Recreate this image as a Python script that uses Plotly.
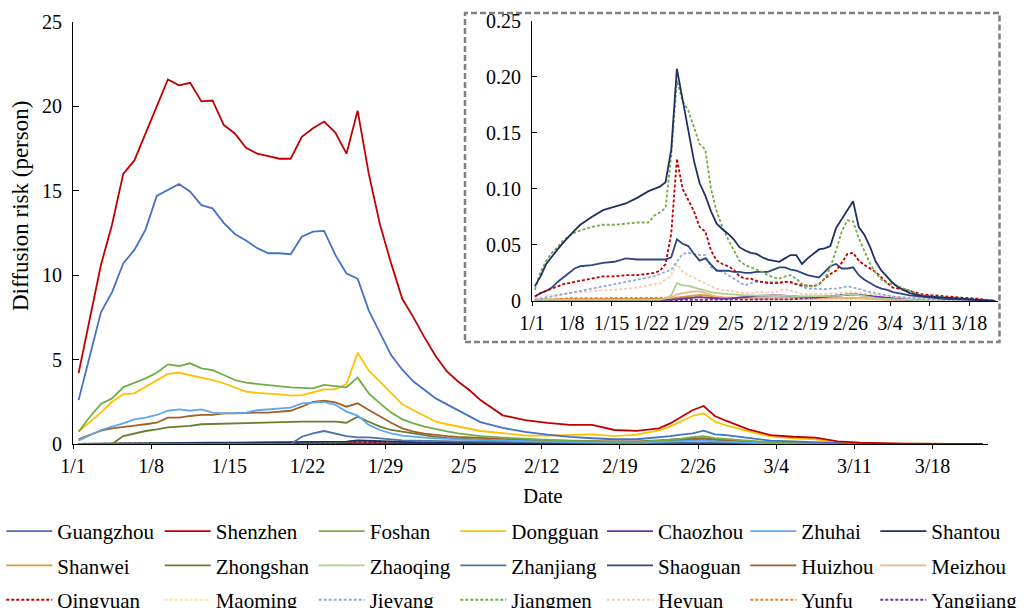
import plotly.graph_objects as go
import pandas as pd

# ---------------- data ----------------
BASE = pd.Timestamp("2020-01-01")

TICK_DAYS = [0, 7, 14, 21, 28, 35, 42, 49, 56, 63, 70, 77]
TICK_LABELS = ["1/1", "1/8", "1/15", "1/22", "1/29", "2/5", "2/12", "2/19",
               "2/26", "3/4", "3/11", "3/18"]

# day offsets (from 1/1) of the large-city series
DAYS_MAIN = list(range(0, 37)) + [38, 40, 42, 44, 46, 48, 50, 52, 53, 54, 55, 56,
                                  57, 58, 60, 62, 64, 66, 68, 70, 74, 78, 81]

shenzhen = [4.2, 7.4, 10.6, 13.0, 16.0, 16.8, 18.4, 20.0, 21.6, 21.25, 21.4, 20.3, 20.35,
            18.9, 18.4, 17.55, 17.2, 17.05, 16.9, 16.9, 18.2, 18.7, 19.1, 18.45, 17.2, 19.75,
            16.0, 13.0, 10.7, 8.6, 7.5, 6.3, 5.2, 4.3, 3.7, 3.2, 2.6,
            1.7, 1.42, 1.25, 1.13, 1.13, 0.83, 0.78, 0.93, 1.22, 1.6, 2.0, 2.25, 1.66, 1.38,
            0.87, 0.53, 0.43, 0.38, 0.15, 0.08, 0.02, 0.01, 0.0]
guangzhou = [2.6, 5.2, 7.8, 9.0, 10.7, 11.5, 12.7, 14.7, 15.05, 15.4, 14.95, 14.15, 13.96,
             13.1, 12.44, 12.05, 11.6, 11.3, 11.3, 11.24, 12.28, 12.58, 12.62, 11.2, 10.1, 9.8,
             7.9, 6.55, 5.27, 4.4, 3.7, 3.2, 2.7, 2.35, 2.0, 1.6, 1.3,
             0.95, 0.72, 0.55, 0.42, 0.34, 0.28, 0.28, 0.38, 0.47, 0.55, 0.63, 0.79, 0.57, 0.53,
             0.36, 0.2, 0.15, 0.1, 0.03, 0.01, 0.0, 0.0, 0.0]
foshan = [0.73, 1.6, 2.37, 2.7, 3.36, 3.63, 3.89, 4.22, 4.72, 4.62, 4.78, 4.48, 4.38, 4.09,
          3.79, 3.63, 3.56, 3.5, 3.43, 3.36, 3.33, 3.3, 3.5, 3.43, 3.36, 3.93, 3.0, 2.41, 1.86,
          1.46, 1.22, 1.03, 0.87, 0.75, 0.63, 0.55, 0.47,
          0.38, 0.3, 0.22, 0.18, 0.15, 0.13, 0.13, 0.2, 0.25, 0.32, 0.4, 0.47, 0.35, 0.3, 0.18,
          0.1, 0.06, 0.03, 0.01, 0.0, 0.0, 0.0, 0.0]
dongguan = [0.73, 1.3, 1.86, 2.5, 2.94, 3.0, 3.4, 3.79, 4.15, 4.22, 4.09, 3.93, 3.79, 3.6,
            3.36, 3.1, 3.03, 3.0, 2.94, 2.86, 2.9, 3.06, 3.24, 3.24, 3.55, 5.41, 4.34, 3.7, 3.0,
            2.35, 2.0, 1.65, 1.32, 1.17, 1.03, 0.9, 0.77,
            0.65, 0.5, 0.5, 0.55, 0.57, 0.47, 0.55, 0.8, 1.03, 1.35, 1.66, 1.82, 1.32, 1.1, 0.75,
            0.45, 0.34, 0.28, 0.05, 0.02, 0.01, 0.0, 0.0]
zhuhai = [0.2, 0.5, 0.83, 1.03, 1.22, 1.46, 1.56, 1.72, 1.97, 2.05, 1.97, 2.05, 1.86, 1.82,
          1.82, 1.86, 2.0, 2.05, 2.07, 2.15, 2.41, 2.45, 2.5, 2.32, 1.92, 1.68, 1.13, 0.83, 0.63,
          0.5, 0.42, 0.38, 0.33, 0.3, 0.27, 0.25, 0.23,
          0.2, 0.16, 0.13, 0.11, 0.1, 0.09, 0.09, 0.12, 0.14, 0.16, 0.18, 0.22, 0.15, 0.12, 0.07,
          0.04, 0.02, 0.01, 0.0, 0.0, 0.0, 0.0, 0.0]
huizhou = [0.28, 0.55, 0.79, 0.93, 1.03, 1.09, 1.17, 1.26, 1.56, 1.56, 1.66, 1.72, 1.72, 1.82,
           1.82, 1.86, 1.86, 1.86, 1.92, 1.97, 2.21, 2.5, 2.57, 2.47, 2.21, 2.41, 2.01, 1.62,
           1.26, 0.93, 0.73, 0.62, 0.53, 0.47, 0.42, 0.38, 0.35,
           0.3, 0.25, 0.22, 0.2, 0.18, 0.15, 0.15, 0.2, 0.24, 0.28, 0.32, 0.35, 0.28, 0.24, 0.15,
           0.08, 0.05, 0.02, 0.01, 0.0, 0.0, 0.0, 0.0]
zhongshan = [0.0, 0.0, 0.0, 0.0, 0.47, 0.63, 0.77, 0.87, 0.99, 1.03, 1.07, 1.17, 1.19, 1.22,
             1.22, 1.26, 1.26, 1.26, 1.28, 1.32, 1.32, 1.32, 1.32, 1.32, 1.26, 1.62, 1.32, 1.03,
             0.83, 0.73, 0.6, 0.5, 0.42, 0.36, 0.32, 0.28, 0.25,
             0.2, 0.17, 0.14, 0.12, 0.11, 0.1, 0.1, 0.15, 0.18, 0.22, 0.26, 0.3, 0.24, 0.2, 0.12,
             0.06, 0.03, 0.01, 0.0, 0.0, 0.0, 0.0, 0.0]
zhanjiang = [0.0, 0.0, 0.0, 0.0, 0.0, 0.0, 0.0, 0.0, 0.0, 0.0, 0.0, 0.0, 0.0, 0.0, 0.0, 0.0,
             0.0, 0.0, 0.0, 0.0, 0.43, 0.63, 0.77, 0.63, 0.47, 0.39, 0.39, 0.33, 0.26, 0.22, 0.2,
             0.2, 0.2, 0.18, 0.16, 0.15, 0.14,
             0.12, 0.1, 0.08, 0.07, 0.06, 0.05, 0.05, 0.07, 0.08, 0.09, 0.1, 0.12, 0.1, 0.08,
             0.05, 0.02, 0.01, 0.0, 0.0, 0.0, 0.0, 0.0, 0.0]

# day offsets (from 1/1) of the small-city series
DAYS_SMALL = [0, 1, 2, 3, 4, 5, 6, 7, 8, 10, 12, 14, 16, 18, 20] + list(range(21, 65)) + \
             [66, 68, 70, 72, 75, 78, 81]

shantou = [0.013, 0.022, 0.033, 0.040, 0.046, 0.052, 0.058, 0.063, 0.068,
           0.075, 0.081, 0.084, 0.087, 0.092, 0.098,
           0.100, 0.102, 0.106, 0.135, 0.207, 0.180, 0.155, 0.125, 0.105, 0.094,
           0.080, 0.069, 0.064, 0.060, 0.055, 0.048, 0.045, 0.043, 0.042, 0.039,
           0.037, 0.036, 0.035, 0.038, 0.041, 0.041, 0.033, 0.038, 0.042, 0.046,
           0.047, 0.049, 0.065, 0.073, 0.082, 0.089, 0.066, 0.059, 0.048, 0.035,
           0.027, 0.021, 0.016, 0.012,
           0.007, 0.0045, 0.0035, 0.003, 0.002, 0.001, 0.0]
jiangmen = [0.010, 0.026, 0.036, 0.043, 0.048, 0.054, 0.058, 0.061, 0.063,
            0.066, 0.068, 0.068, 0.069, 0.070, 0.070,
            0.076, 0.079, 0.083, 0.130, 0.197, 0.178, 0.170, 0.155, 0.140, 0.135,
            0.100, 0.080, 0.066, 0.055, 0.045, 0.036, 0.032, 0.030, 0.028, 0.026,
            0.023, 0.021, 0.020, 0.022, 0.023, 0.020, 0.015, 0.013, 0.013, 0.015,
            0.020, 0.030, 0.045, 0.062, 0.072, 0.071, 0.056, 0.045, 0.033, 0.025,
            0.019, 0.016, 0.015, 0.013,
            0.009, 0.005, 0.004, 0.003, 0.002, 0.001, 0.0]
shaoguan = [0.004, 0.007, 0.009, 0.012, 0.017, 0.021, 0.025, 0.029, 0.031,
            0.032, 0.034, 0.035, 0.038, 0.037, 0.037,
            0.037, 0.037, 0.037, 0.039, 0.055, 0.051, 0.049, 0.042, 0.036, 0.038,
            0.032, 0.027, 0.027, 0.027, 0.026, 0.026, 0.025, 0.025, 0.026, 0.026,
            0.026, 0.028, 0.030, 0.030, 0.028, 0.027, 0.025, 0.023, 0.022, 0.021,
            0.026, 0.031, 0.033, 0.029, 0.029, 0.030, 0.023, 0.019, 0.016, 0.013,
            0.011, 0.010, 0.008, 0.007,
            0.005, 0.004, 0.003, 0.002, 0.0015, 0.001, 0.0]
qingyuan = [0.004, 0.007, 0.009, 0.011, 0.013, 0.015, 0.016, 0.017, 0.018,
            0.020, 0.022, 0.022, 0.023, 0.023, 0.024,
            0.025, 0.027, 0.033, 0.060, 0.127, 0.100, 0.090, 0.080, 0.066, 0.062,
            0.045, 0.036, 0.033, 0.031, 0.028, 0.022, 0.020, 0.020, 0.018, 0.017,
            0.016, 0.016, 0.016, 0.017, 0.017, 0.015, 0.014, 0.014, 0.013, 0.015,
            0.020, 0.024, 0.027, 0.034, 0.042, 0.043, 0.036, 0.032, 0.029, 0.026,
            0.021, 0.016, 0.012, 0.011,
            0.009, 0.006, 0.005, 0.004, 0.003, 0.002, 0.0]
jieyang = [0.001, 0.002, 0.003, 0.004, 0.005, 0.006, 0.007, 0.008, 0.009,
           0.011, 0.013, 0.015, 0.017, 0.019, 0.021,
           0.022, 0.024, 0.026, 0.028, 0.035, 0.042, 0.043, 0.042, 0.041, 0.041,
           0.030, 0.028, 0.026, 0.023, 0.020, 0.017, 0.014, 0.016, 0.017, 0.017,
           0.017, 0.017, 0.017, 0.017, 0.016, 0.015, 0.013, 0.011, 0.011, 0.0105,
           0.0105, 0.011, 0.011, 0.012, 0.013, 0.012, 0.0105, 0.009, 0.008, 0.007,
           0.006, 0.0045, 0.004, 0.0035,
           0.003, 0.002, 0.0015, 0.001, 0.001, 0.0, 0.0]
heyuan = [0.002, 0.003, 0.004, 0.005, 0.006, 0.0065, 0.007, 0.008, 0.008,
          0.009, 0.0095, 0.010, 0.011, 0.012, 0.014,
          0.015, 0.016, 0.019, 0.023, 0.033, 0.026, 0.023, 0.021, 0.018, 0.016,
          0.013, 0.011, 0.010, 0.009, 0.008, 0.0075, 0.007, 0.007, 0.008, 0.008,
          0.0075, 0.0075, 0.009, 0.0105, 0.009, 0.008, 0.006, 0.006, 0.006, 0.006,
          0.006, 0.0065, 0.007, 0.0075, 0.008, 0.008, 0.007, 0.0065, 0.006, 0.005,
          0.0045, 0.004, 0.0035, 0.003,
          0.0025, 0.002, 0.001, 0.001, 0.0, 0.0, 0.0]
zhaoqing = [0.001, 0.001, 0.001, 0.001, 0.001, 0.001, 0.001, 0.001, 0.001,
            0.001, 0.001, 0.001, 0.001, 0.001, 0.001,
            0.001, 0.001, 0.002, 0.005, 0.016, 0.014, 0.0135, 0.012, 0.0105, 0.009,
            0.008, 0.007, 0.0065, 0.006, 0.006, 0.0055, 0.005, 0.005, 0.005, 0.005,
            0.005, 0.005, 0.005, 0.005, 0.0045, 0.004, 0.004, 0.004, 0.004, 0.004,
            0.004, 0.004, 0.0045, 0.005, 0.006, 0.006, 0.005, 0.004, 0.003, 0.0025,
            0.002, 0.0015, 0.0015, 0.0015,
            0.001, 0.0, 0.0, 0.0, 0.0, 0.0, 0.0]
meizhou = [0.0005, 0.0005, 0.0005, 0.0005, 0.0005, 0.0005, 0.0005, 0.0005, 0.0005,
           0.0005, 0.0005, 0.0005, 0.0005, 0.0005, 0.0005,
           0.0005, 0.0008, 0.001, 0.003, 0.006, 0.007, 0.008, 0.0085, 0.0085, 0.007,
           0.005, 0.004, 0.0035, 0.003, 0.003, 0.003, 0.003, 0.0028, 0.0025, 0.0025,
           0.0025, 0.0025, 0.0025, 0.0025, 0.0022, 0.002, 0.002, 0.002, 0.002, 0.002,
           0.002, 0.002, 0.0022, 0.0025, 0.0028, 0.003, 0.0025, 0.002, 0.0018, 0.0015,
           0.0012, 0.001, 0.001, 0.0008,
           0.0005, 0.0, 0.0, 0.0, 0.0, 0.0, 0.0]
shanwei = [0.0015, 0.0015, 0.0015, 0.0015, 0.0015, 0.0015, 0.0015, 0.0015, 0.0015,
           0.0015, 0.0015, 0.0015, 0.0015, 0.0015, 0.0015,
           0.0015, 0.0015, 0.0015, 0.002, 0.003, 0.0035, 0.004, 0.005, 0.0055, 0.005,
           0.004, 0.0035, 0.003, 0.0028, 0.0025, 0.0025, 0.0022, 0.002, 0.002, 0.002,
           0.002, 0.002, 0.002, 0.002, 0.002, 0.002, 0.002, 0.002, 0.002, 0.002,
           0.002, 0.002, 0.002, 0.0022, 0.0025, 0.0028, 0.0025, 0.002, 0.0018, 0.0015,
           0.0012, 0.001, 0.001, 0.0008,
           0.0005, 0.0, 0.0, 0.0, 0.0, 0.0, 0.0]
yunfu = [0.0, 0.0005, 0.001, 0.0015, 0.002, 0.0022, 0.0025, 0.0025, 0.0025,
         0.0025, 0.0025, 0.0025, 0.0025, 0.0025, 0.0025,
         0.0025, 0.0025, 0.0025, 0.0028, 0.003, 0.003, 0.0032, 0.0035, 0.0035, 0.0032,
         0.003, 0.003, 0.0028, 0.0025, 0.0025, 0.0025, 0.0025, 0.0025, 0.0025, 0.0025,
         0.0025, 0.0025, 0.0025, 0.0025, 0.0025, 0.0025, 0.0025, 0.0025, 0.0025, 0.0025,
         0.0025, 0.0025, 0.0025, 0.0025, 0.0028, 0.003, 0.0028, 0.0025, 0.0022, 0.002,
         0.0018, 0.0015, 0.0012, 0.001,
         0.0008, 0.0005, 0.0, 0.0, 0.0, 0.0, 0.0]
chaozhou = [0.0, 0.0, 0.0, 0.0, 0.0, 0.0, 0.0, 0.0, 0.0,
            0.0, 0.0, 0.0, 0.0005, 0.0005, 0.0005,
            0.0005, 0.0005, 0.0008, 0.001, 0.0015, 0.002, 0.0025, 0.003, 0.0035, 0.003,
            0.0025, 0.002, 0.002, 0.0022, 0.0025, 0.003, 0.0035, 0.004, 0.0045, 0.0048,
            0.005, 0.005, 0.005, 0.0048, 0.0045, 0.004, 0.0035, 0.003, 0.003, 0.0032,
            0.0035, 0.004, 0.0045, 0.005, 0.0055, 0.006, 0.0055, 0.005, 0.004, 0.0035,
            0.003, 0.0025, 0.002, 0.0015,
            0.001, 0.0005, 0.0, 0.0, 0.0, 0.0, 0.0]
yangjiang = [0.0, 0.0, 0.0, 0.0, 0.0, 0.0, 0.0, 0.0, 0.0,
             0.0, 0.0, 0.0, 0.0, 0.0, 0.0,
             0.0, 0.0, 0.0, 0.0, 0.0005, 0.001, 0.001, 0.0012, 0.0015, 0.0015,
             0.0015, 0.0015, 0.0015, 0.0015, 0.0015, 0.0015, 0.0015, 0.0015, 0.0015, 0.0015,
             0.0015, 0.0015, 0.0015, 0.0015, 0.0015, 0.0018, 0.002, 0.0025, 0.003, 0.0035,
             0.004, 0.0045, 0.005, 0.0055, 0.006, 0.0065, 0.006, 0.0055, 0.0045, 0.0035,
             0.0028, 0.0022, 0.0018, 0.0015,
             0.001, 0.0008, 0.0005, 0.0003, 0.0001, 0.0, 0.0]
maoming = [0.0005, 0.0005, 0.0005, 0.0005, 0.0005, 0.0005, 0.0005, 0.0005, 0.0005,
           0.0008, 0.0008, 0.0008, 0.0008, 0.0008, 0.0008,
           0.0008, 0.0008, 0.001, 0.0012, 0.0018, 0.0018, 0.0015, 0.0015, 0.0015, 0.0012,
           0.001, 0.001, 0.001, 0.001, 0.001, 0.001, 0.001, 0.001, 0.001, 0.001,
           0.001, 0.001, 0.001, 0.001, 0.001, 0.001, 0.001, 0.001, 0.001, 0.001,
           0.001, 0.001, 0.0012, 0.0013, 0.0015, 0.0015, 0.0012, 0.001, 0.001, 0.0008,
           0.0008, 0.0005, 0.0005, 0.0005,
           0.0003, 0.0, 0.0, 0.0, 0.0, 0.0, 0.0]

CITIES = ["Guangzhou", "Shenzhen", "Foshan", "Dongguan", "Chaozhou", "Zhuhai", "Shantou",
          "Shanwei", "Zhongshan", "Zhaoqing", "Zhanjiang", "Shaoguan", "Huizhou", "Meizhou",
          "Qingyuan", "Maoming", "Jieyang", "Jiangmen", "Heyuan", "Yunfu", "Yangjiang"]

SERIES = {
    "Guangzhou": (DAYS_MAIN, guangzhou), "Shenzhen": (DAYS_MAIN, shenzhen),
    "Foshan": (DAYS_MAIN, foshan), "Dongguan": (DAYS_MAIN, dongguan),
    "Zhuhai": (DAYS_MAIN, zhuhai), "Huizhou": (DAYS_MAIN, huizhou),
    "Zhongshan": (DAYS_MAIN, zhongshan), "Zhanjiang": (DAYS_MAIN, zhanjiang),
    "Chaozhou": (DAYS_SMALL, chaozhou), "Shantou": (DAYS_SMALL, shantou),
    "Shanwei": (DAYS_SMALL, shanwei), "Zhaoqing": (DAYS_SMALL, zhaoqing),
    "Shaoguan": (DAYS_SMALL, shaoguan), "Meizhou": (DAYS_SMALL, meizhou),
    "Qingyuan": (DAYS_SMALL, qingyuan), "Maoming": (DAYS_SMALL, maoming),
    "Jieyang": (DAYS_SMALL, jieyang), "Jiangmen": (DAYS_SMALL, jiangmen),
    "Heyuan": (DAYS_SMALL, heyuan), "Yunfu": (DAYS_SMALL, yunfu),
    "Yangjiang": (DAYS_SMALL, yangjiang),
}
SMALL_CITIES = ["Shanwei", "Yunfu", "Maoming", "Meizhou", "Chaozhou", "Yangjiang", "Zhaoqing",
                "Heyuan", "Jieyang", "Shaoguan", "Qingyuan", "Jiangmen", "Shantou"]

# ---------------- styling ----------------
STYLE = {
    "Guangzhou": ("#4472C4", "solid"), "Shenzhen": ("#C00000", "solid"),
    "Foshan": ("#70AD47", "solid"), "Dongguan": ("#FFC000", "solid"),
    "Chaozhou": ("#7030A0", "solid"), "Zhuhai": ("#5FA7EE", "solid"),
    "Shantou": ("#1F3064", "solid"), "Shanwei": ("#C9A13B", "solid"),
    "Zhongshan": ("#6B7D2E", "solid"), "Zhaoqing": ("#A9D18E", "solid"),
    "Zhanjiang": ("#4E72A8", "solid"), "Shaoguan": ("#2F4680", "solid"),
    "Huizhou": ("#A35F2A", "solid"), "Meizhou": ("#F4B183", "solid"),
    "Qingyuan": ("#C00000", "3px,2px"), "Maoming": ("#FFE699", "3px,2px"),
    "Jieyang": ("#8FAADC", "3px,2px"), "Jiangmen": ("#70AD47", "3px,2px"),
    "Heyuan": ("#F8CBAD", "3px,2px"), "Yunfu": ("#ED7D31", "3px,2px"),
    "Yangjiang": ("#7030A0", "3px,2px"),
}
FONT = "Liberation Serif"

W, H = 1027, 608
L, R, T, B = 73, 22, 10, 164          # plot-area margins (px)
PW, PH = W - L - R, H - T - B


def px_x(p):
    return (p - L) / PW


def px_y(p):
    return (H - B - p) / PH


def to_dates(days):
    return [BASE + pd.Timedelta(days=d, hours=12) for d in days]


tick_dates = [BASE + pd.Timedelta(days=d) for d in TICK_DAYS]
x_range = [BASE, BASE + pd.Timedelta(days=82)]

fig = go.Figure()

# main panel: every city, legend entries arranged in 7 columns
draw_order = SMALL_CITIES + ["Zhanjiang", "Zhongshan", "Huizhou", "Zhuhai", "Dongguan",
                             "Foshan", "Guangzhou", "Shenzhen"]
legend_ids = ["legend"] + [f"legend{i}" for i in range(2, 8)]
for name in draw_order:
    days, vals = SERIES[name]
    color, dash = STYLE[name]
    col = CITIES.index(name) % 7
    fig.add_trace(go.Scatter(
        x=to_dates(days), y=vals, mode="lines", name=name,
        line=dict(color=color, width=1.8, dash=dash),
        legend=legend_ids[col], legendgroup=name,
        legendrank=CITIES.index(name),
        xaxis="x", yaxis="y"))

# inset: the small cities on an enlarged scale
for name in SMALL_CITIES:
    days, vals = SERIES[name]
    color, dash = STYLE[name]
    fig.add_trace(go.Scatter(
        x=to_dates(days), y=vals, mode="lines", name=name, showlegend=False,
        line=dict(color=color, width=1.8, dash=dash), legendgroup=name,
        xaxis="x2", yaxis="y2"))

axis_common = dict(showline=True, linecolor="black", linewidth=1.2, showgrid=False,
                   zeroline=False, color="black", automargin=False)

legend_cols_px = [9.3, 167.7, 321.7, 463.3, 610.0, 753.3, 883.3]
legend_layout = {}
for lid, xp in zip(legend_ids, legend_cols_px):
    legend_layout[lid] = dict(
        x=(xp - 8) / W, y=1 - 511 / H, xref="container", yref="container",
        xanchor="left", yanchor="top",
        orientation="v", bgcolor="rgba(0,0,0,0)", borderwidth=0,
        font=dict(family=FONT, size=21, color="black"),
        itemwidth=46, tracegroupgap=4, traceorder="grouped")

fig.update_layout(
    width=W, height=H,
    margin=dict(l=L, r=R, t=T, b=B, autoexpand=False),
    paper_bgcolor="white", plot_bgcolor="rgba(0,0,0,0)",
    font=dict(family=FONT, size=20, color="black"),
    xaxis=dict(**axis_common, type="date", domain=[0, px_x(988.3)], range=x_range,
               tickmode="array", tickvals=tick_dates, ticktext=TICK_LABELS,
               ticks="outside", ticklen=4, tickwidth=1.2, tickcolor="black",
               tickfont=dict(family=FONT, size=20), anchor="y"),
    yaxis=dict(**axis_common, domain=[0, px_y(22)], range=[0, 25],
               tickmode="array", tickvals=[0, 5, 10, 15, 20, 25],
               ticktext=["0", "5", "10", "15", "20", "25"],
               ticks="inside", ticklen=6, tickwidth=1.2, tickcolor="black",
               ticklabelstandoff=6,
               tickfont=dict(family=FONT, size=20), anchor="x"),
    xaxis2=dict(**axis_common, type="date", domain=[px_x(532), px_x(998)], range=x_range,
                tickmode="array", tickvals=tick_dates, ticktext=TICK_LABELS,
                ticks="outside", ticklen=4, tickwidth=1.2, tickcolor="black",
                tickfont=dict(family=FONT, size=20), anchor="y2"),
    yaxis2=dict(**axis_common, domain=[px_y(301), px_y(20.7)], range=[0, 0.25],
                tickmode="array", tickvals=[0, 0.05, 0.10, 0.15, 0.20, 0.25],
                ticktext=["0", "0.05", "0.10", "0.15", "0.20", "0.25"],
                ticks="inside", ticklen=5, tickwidth=1.2, tickcolor="black",
                ticklabelstandoff=6,
                tickfont=dict(family=FONT, size=20), anchor="x2"),
    shapes=[dict(type="rect", xref="paper", yref="paper",
                 x0=px_x(465), x1=px_x(999.5), y0=px_y(342), y1=px_y(13),
                 line=dict(color="#7F7F7F", width=2.5, dash="6px,3px"),
                 fillcolor="rgba(0,0,0,0)", layer="below")],
    annotations=[
        dict(text="Diffusion risk (person)", xref="paper", yref="paper",
             x=px_x(20), y=px_y(206), textangle=-90, showarrow=False,
             font=dict(family=FONT, size=23, color="black"),
             xanchor="center", yanchor="middle"),
        dict(text="Date", xref="paper", yref="paper", x=px_x(543), y=px_y(496),
             showarrow=False, font=dict(family=FONT, size=21, color="black"),
             xanchor="center", yanchor="middle"),
    ],
    showlegend=True,
    **legend_layout,
)

fig.write_html("out.html")
